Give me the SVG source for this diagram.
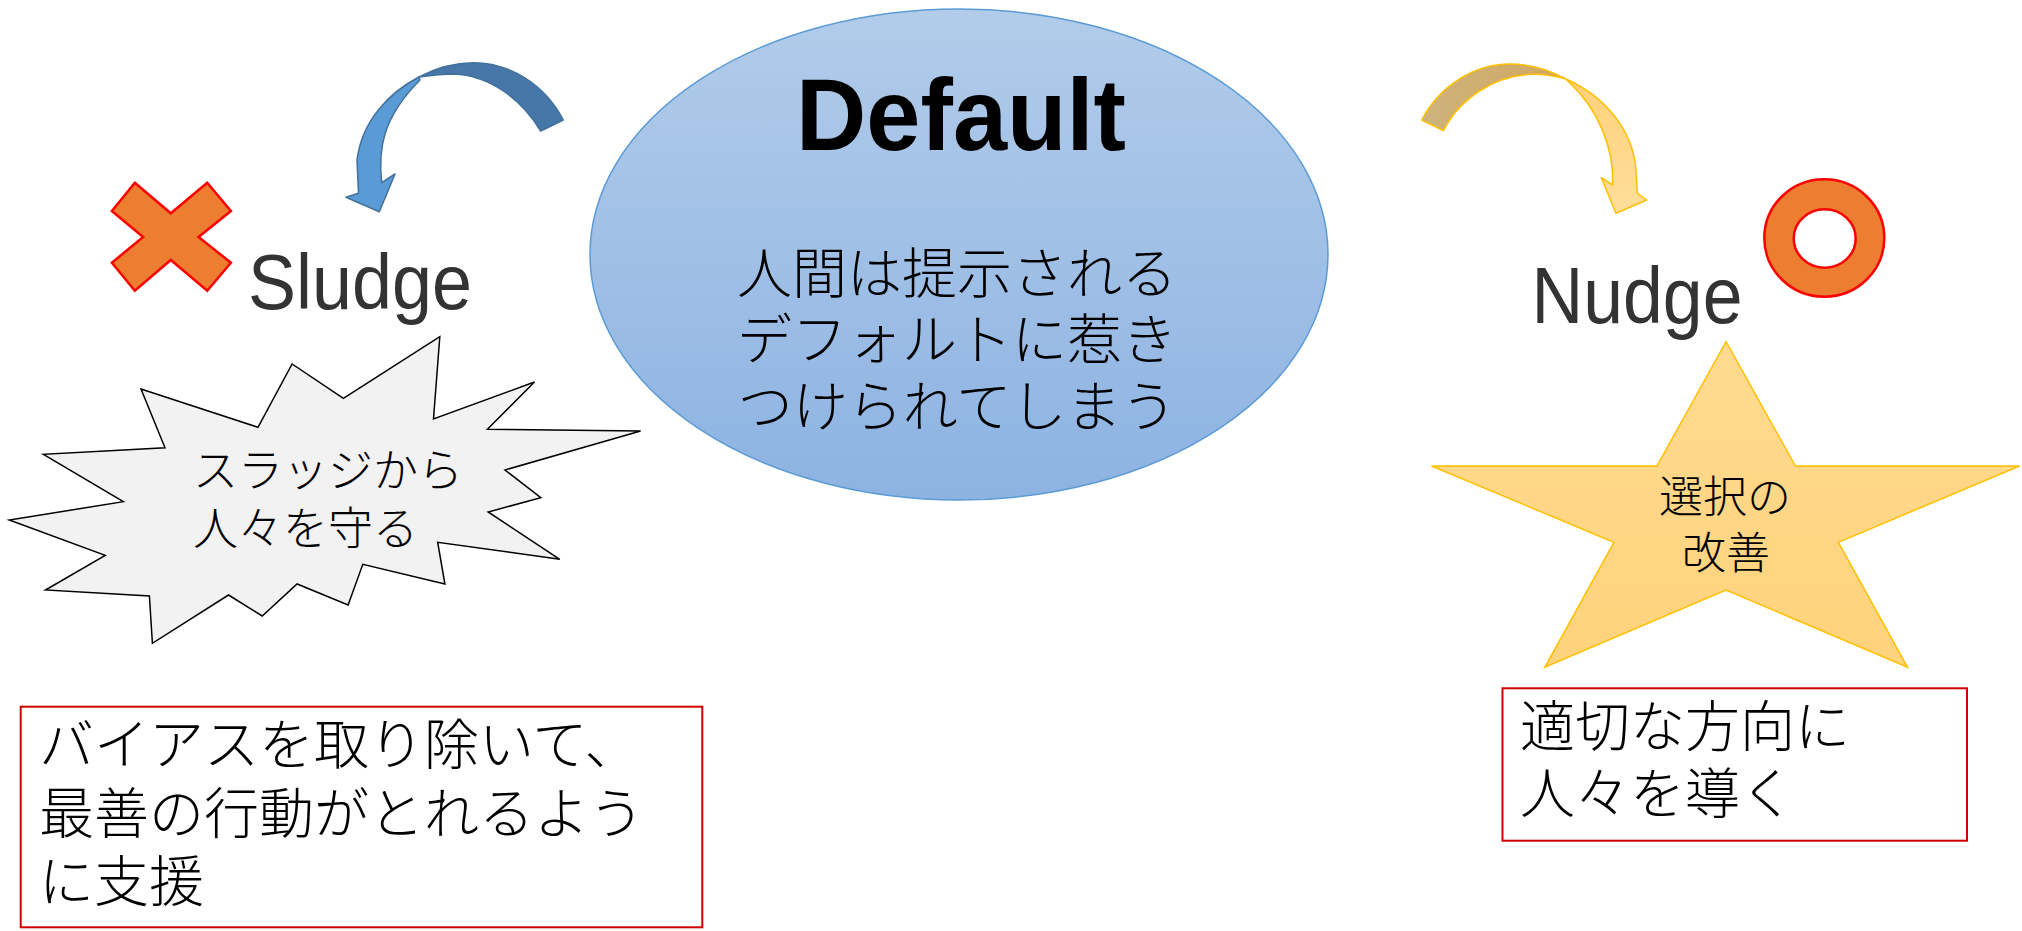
<svg xmlns="http://www.w3.org/2000/svg" width="2022" height="931" viewBox="0 0 2022 931">
<defs>
<linearGradient id="gEll" x1="0" y1="0" x2="0" y2="1">
<stop offset="0" stop-color="#B2CCEA"/>
<stop offset="1" stop-color="#8DB3E2"/>
</linearGradient>
<linearGradient id="gStar" x1="0" y1="0" x2="0" y2="1">
<stop offset="0" stop-color="#FFDA90"/>
<stop offset="1" stop-color="#FFD37C"/>
</linearGradient>
<linearGradient id="gGoldDark" x1="0" y1="0" x2="1" y2="0">
<stop offset="0" stop-color="#CDB37E"/>
<stop offset="1" stop-color="#D2A75E"/>
</linearGradient>
<linearGradient id="gGoldLight" x1="0" y1="0" x2="0" y2="1">
<stop offset="0" stop-color="#FFD27A"/>
<stop offset="1" stop-color="#FFDD9C"/>
</linearGradient>
</defs>
<style>
.jp{font-family:"Noto Sans CJK JP","Noto Sans CJK SC",sans-serif;font-weight:300;fill:#000}
.lat{font-family:"Liberation Sans",Arial,sans-serif;fill:#333}
.box{fill:#fff;stroke:#D00000;stroke-width:2}
.blueDark{fill:#4677A8;stroke:#41719C;stroke-width:1.5;stroke-linejoin:round}
.blueLight{fill:#5B9BD5;stroke:#41719C;stroke-width:1.5;stroke-linejoin:round}
.goldDark{fill:url(#gGoldDark);stroke:#FFC000;stroke-width:1.5;stroke-linejoin:round}
.goldLight{fill:url(#gGoldLight);stroke:#FFC000;stroke-width:1.5;stroke-linejoin:round}
.mark{fill:#ED7D31;stroke:#FF0000;stroke-width:2.5}
</style>
<rect width="2022" height="931" fill="#fff"/>

<g id="default">
<ellipse cx="959" cy="254.5" rx="369" ry="245.5" fill="url(#gEll)" stroke="#5B9BD5" stroke-width="1.5"/>
<text x="961" y="150" text-anchor="middle" font-family="Liberation Sans, Arial, sans-serif" font-weight="bold" font-size="102" fill="#000" textLength="330" lengthAdjust="spacingAndGlyphs">Default</text>
<text class="jp" font-size="55" text-anchor="middle"><tspan x="957" y="293">人間は提示される</tspan><tspan x="957" y="359">デフォルトに惹き</tspan><tspan x="957" y="426">つけられてしまう</tspan></text>
</g>

<g id="sludge">
<polygon class="mark" points="134.8,182.7 170.8,213.3 207.2,182.7 230.9,211 198.5,237 230.9,262.7 207.2,290.7 170.8,260 134.8,290.7 111.9,262.7 143.1,237 111.9,211"/>
<text class="lat" x="248" y="309" font-size="78" textLength="224" lengthAdjust="spacingAndGlyphs">Sludge</text>
</g>

<g id="burst">
<polygon points="141,389 258,427.3 292.1,364 343.4,398.3 439.8,336.7 433.5,419 534.5,382 487.4,429.3 640.6,431 505,470 540.8,497.7 488.2,512 559.8,559.3 437.7,542.3 444.9,584 362.8,564.3 348.1,605 297.1,584 262.2,616 228.5,595 152.4,643.3 149.4,596 45.5,590 105.2,555.3 9.3,520 123.3,501.7 43.4,454.3 165,447.7" fill="#F2F2F2" stroke="#000" stroke-width="1.5" stroke-linejoin="miter"/>
<text class="jp" font-size="45"><tspan x="193" y="487">スラッジから</tspan><tspan x="193" y="545">人々を守る</tspan></text>
</g>

<g id="sludge-box">
<rect class="box" x="20.7" y="706.7" width="681.6" height="220.6"/>
<text class="jp" font-size="55"><tspan x="39" y="764">バイアスを取り除いて、</tspan><tspan x="39" y="833">最善の行動がとれるよう</tspan><tspan x="39" y="901">に支援</tspan></text>
</g>

<g id="nudge">
<path class="mark" fill-rule="evenodd" d="M1764.3,238 a60,58.7 0 1,0 120,0 a60,58.7 0 1,0 -120,0 Z M1793.7,238.5 a31,29.2 0 1,0 62,0 a31,29.2 0 1,0 -62,0 Z"/>
<text class="lat" x="1531.5" y="323" font-size="79" textLength="211" lengthAdjust="spacingAndGlyphs">Nudge</text>
</g>

<g id="star">
<polygon points="1726,341.7 1795.4,466 2019.6,466 1838.4,542.3 1907.5,667.3 1726,590 1544.8,667.3 1613.9,542.3 1431.5,466 1656.9,466" fill="url(#gStar)" stroke="#FFC000" stroke-width="1.5"/>
<text class="jp" font-size="44" text-anchor="middle"><tspan x="1725" y="513">選択の</tspan><tspan x="1726" y="569">改善</tspan></text>
</g>

<g id="nudge-box">
<rect class="box" x="1502.5" y="688.3" width="464.5" height="152.4"/>
<text class="jp" font-size="55"><tspan x="1520" y="746">適切な方向に</tspan><tspan x="1520" y="813">人々を導く</tspan></text>
</g>

<g id="connectors">
<g id="arrow-sludge">
<path class="blueDark" d="M563.3,120 C545,85 510,62.7 473.3,62.7 C452,62.7 434,69 419,77 C430,75.5 442,74 453.3,74 C490,75 522,100 540.7,131 Z"/>
<path class="blueLight" d="M419,77 C390,92 362,120 357,160 L358.5,193.3 L346,197.3 L379.3,211.7 L395,174 L381.7,182.7 C378,150 382,118 420,80 Z"/>
</g>
<g id="arrow-nudge">
<path class="goldDark" d="M1421.7,120 C1440,85 1475,64 1510,64 C1532,64 1550,70 1566.7,79.3 C1555,76 1545,74.3 1533.3,74.3 C1495,75 1460,98 1443.3,130.7 Z"/>
<path class="goldLight" d="M1566.7,79.3 C1605,97 1633,130 1636,170 L1637.3,193.3 L1646.7,200 L1616,213.3 L1601.3,177.7 L1612.7,185 C1614,150 1600,110 1566.7,80 Z"/>
</g>
</g>
</svg>
